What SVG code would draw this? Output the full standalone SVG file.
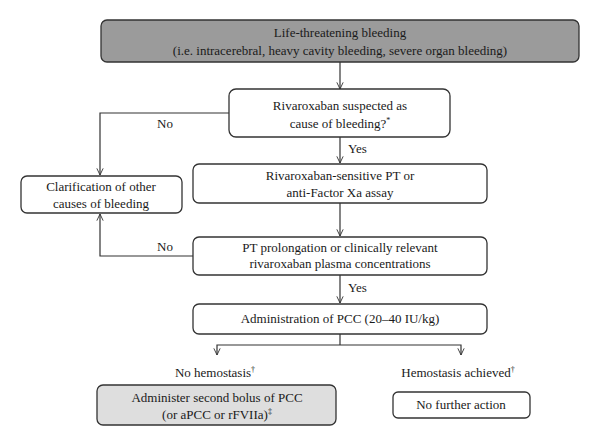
<svg xmlns="http://www.w3.org/2000/svg" width="600" height="446" viewBox="0 0 600 446">
<defs>
<marker id="arr" markerUnits="userSpaceOnUse" viewBox="0 0 10 10" refX="9.5" refY="5" markerWidth="7" markerHeight="10" orient="auto">
<path d="M0,0.5 L9.5,5 L0,9.5" fill="none" stroke="#333" stroke-width="1.3"/>
</marker>
<style>
.box{fill:#fff;stroke:#333;stroke-width:1.3}
.dark{fill:#9b9b9b}
.light{fill:#dedede}
text{font-family:"Liberation Serif","Times New Roman",serif;font-size:13px;fill:#1a1a1a;text-anchor:middle}
.lbl{text-anchor:start}
.con{fill:none;stroke:#333;stroke-width:1.2}
</style>
</defs>
<rect width="600" height="446" fill="#fff"/>
<g id="connectors">
<path class="con" d="M340,62 V89" marker-end="url(#arr)"/>
<path class="con" d="M229,113 H100 V175" marker-end="url(#arr)"/>
<path class="con" d="M340,137 V163" marker-end="url(#arr)"/>
<path class="con" d="M340,203 V236" marker-end="url(#arr)"/>
<path class="con" d="M193,256 H100 V214" marker-end="url(#arr)"/>
<path class="con" d="M340,275 V303" marker-end="url(#arr)"/>
<path class="con" d="M340,334 V345"/>
<path class="con" d="M340,345 H217 V355" marker-end="url(#arr)"/>
<path class="con" d="M340,345 H461 V355" marker-end="url(#arr)"/>
<text class="lbl" x="157" y="128">No</text>
<text class="lbl" x="348" y="153">Yes</text>
<text class="lbl" x="157" y="251">No</text>
<text class="lbl" x="348" y="292">Yes</text>
</g>
<g id="n1">
<rect class="box dark" x="101" y="20" width="478" height="42" rx="6"/>
<text x="340" y="37">Life-threatening bleeding</text>
<text x="340" y="55">(i.e. intracerebral, heavy cavity bleeding, severe organ bleeding)</text>
</g>
<g id="n2">
<rect class="box" x="229" y="89" width="221" height="48" rx="7"/>
<text x="340" y="110">Rivaroxaban suspected as</text>
<text x="340" y="128">cause of bleeding?<tspan font-size="8" dy="-5">*</tspan></text>
</g>
<g id="n3">
<rect class="box" x="21" y="176" width="161" height="37" rx="6"/>
<text x="101" y="191">Clarification of other</text>
<text x="101" y="208">causes of bleeding</text>
</g>
<g id="n4">
<rect class="box" x="193" y="164" width="294" height="39" rx="6"/>
<text x="340" y="180">Rivaroxaban-sensitive PT or</text>
<text x="340" y="197">anti-Factor Xa assay</text>
</g>
<g id="n5">
<rect class="box" x="193" y="237" width="294" height="38" rx="6"/>
<text x="340" y="252">PT prolongation or clinically relevant</text>
<text x="340" y="268">rivaroxaban plasma concentrations</text>
</g>
<g id="n6">
<rect class="box" x="193" y="304" width="294" height="30" rx="6"/>
<text x="340" y="323">Administration of PCC (20–40 IU/kg)</text>
</g>
<g id="n7">
<text x="215" y="377">No hemostasis<tspan font-size="8" dy="-5">†</tspan></text>
</g>
<g id="n8">
<text x="458" y="377">Hemostasis achieved<tspan font-size="8" dy="-5">†</tspan></text>
</g>
<g id="n9">
<rect class="box light" x="97" y="385" width="239" height="40" rx="6"/>
<text x="217" y="402">Administer second bolus of PCC</text>
<text x="217" y="419">(or aPCC or rFVIIa)<tspan font-size="8" dy="-5">‡</tspan></text>
</g>
<g id="n10">
<rect class="box" x="393" y="392" width="137" height="26" rx="5"/>
<text x="461" y="409">No further action</text>
</g>
</svg>
